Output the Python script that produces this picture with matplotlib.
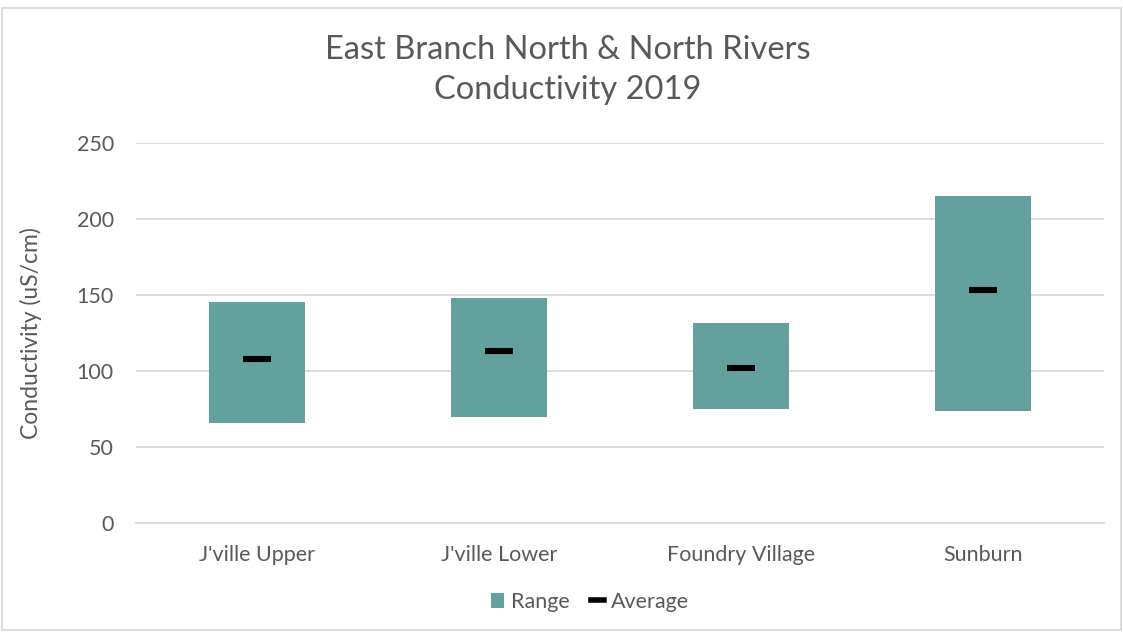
import matplotlib
matplotlib.use("Agg")
import matplotlib.pyplot as plt
from matplotlib.lines import Line2D
from matplotlib.patches import Patch, Rectangle

categories = ["J'ville Upper", "J'ville Lower", "Foundry Village", "Sunburn"]
range_low = [65.5, 69.5, 74.6, 73.5]
range_high = [145.0, 147.6, 131.2, 215.0]
average = [107.7, 113.0, 101.8, 152.8]
y_ticks = [0, 50, 100, 150, 200, 250]

plt.rcParams['font.family'] = ['Lato', 'DejaVu Sans']
txt = '#595959'
bar_color = '#63A19F'

fig = plt.figure(figsize=(11.23, 6.32), dpi=100)
ax = fig.add_axes([136/1123, 1-522.7/632, (1104-136)/1123, (522.7-142.7)/632])

x = list(range(len(categories)))
heights = [h - l for h, l in zip(range_high, range_low)]
ax.bar(x, heights, bottom=range_low, width=0.4, color=bar_color, zorder=2)
ax.plot(x, average, linestyle='none', marker='_', markersize=19.5,
        markeredgewidth=4.4, color='black', zorder=3)

ax.set_xlim(-0.5, len(categories) - 0.5)
ax.set_ylim(0, 250)
ax.set_yticks(y_ticks)
ax.set_xticks(x)
ax.set_xticklabels(categories)
ax.grid(axis='y', color='#D9D9D9', linewidth=1.3, zorder=0)
for s in ['top', 'right', 'left']:
    ax.spines[s].set_visible(False)
ax.spines['bottom'].set_color('#D9D9D9')
ax.spines['bottom'].set_linewidth(1.3)
ax.tick_params(axis='both', length=0, colors=txt, labelsize=15.5)
ax.tick_params(axis='y', pad=16)
ax.tick_params(axis='x', pad=16)
ax.set_ylabel('Conductivity (uS/cm)', color=txt, fontsize=16.5, labelpad=25)

fig.text(568/1123, 1-70/632,
         'East Branch North & North Rivers\nConductivity 2019',
         ha='center', va='center', fontsize=23.5, color=txt, linespacing=1.45)

handles = [Patch(facecolor=bar_color, edgecolor='none'),
           Line2D([], [], color='black', linewidth=4, linestyle='-')]
fig.legend(handles, ['Range', 'Average'], loc='center', bbox_to_anchor=(590/1123, 1-602/632),
           ncol=2, frameon=False, fontsize=15.5, labelcolor=txt, handlelength=0.6,
           handleheight=0.7, handletextpad=0.3, columnspacing=1.0)

fig.patches.append(Rectangle((2/1123, 2/632), 1119/1123, 622/632, transform=fig.transFigure,
                             fill=False, edgecolor='#D9D9D9', linewidth=1.3))

fig.savefig('out.png', dpi=100)
